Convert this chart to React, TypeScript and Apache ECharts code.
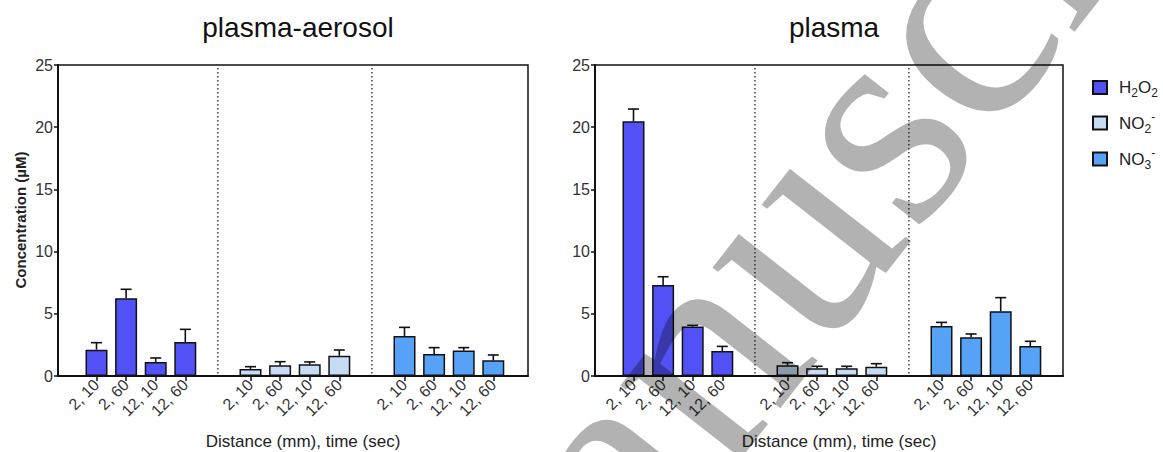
import React, { useEffect, useRef } from "react";
import * as echarts from "echarts";

// ---------- data ----------
const categories = ["2, 10", "2, 60", "12, 10", "12, 60"];
const seriesNames = ["H2O2", "NO2-", "NO3-"];
const panelTitles = ["plasma-aerosol", "plasma"];
const yTicks = [0, 5, 10, 15, 20, 25];

const aerosolH2O2 = [2.12, 6.24, 1.13, 2.73];
const aerosolH2O2Err = [0.56, 0.73, 0.32, 1.02];
const aerosolNO2 = [0.56, 0.86, 0.94, 1.63];
const aerosolNO2Err = [0.19, 0.29, 0.19, 0.46];
const aerosolNO3 = [3.22, 1.77, 2.04, 1.26];
const aerosolNO3Err = [0.69, 0.51, 0.24, 0.43];

const plasmaH2O2 = [20.47, 7.32, 3.97, 2.01];
const plasmaH2O2Err = [0.99, 0.66, 0.1, 0.37];
const plasmaNO2 = [0.86, 0.62, 0.62, 0.75];
const plasmaNO2Err = [0.21, 0.16, 0.16, 0.24];
const plasmaNO3 = [4.02, 3.11, 5.2, 2.41];
const plasmaNO3Err = [0.29, 0.27, 1.1, 0.38];

// ---------- styling / layout ----------
const colors = ["#5151f5", "#c6dcf4", "#56a2f6"];
const FONT = "Liberation Sans, Arial, Helvetica, sans-serif";
const plotTop = 65;
const plotHeight = 311;
const panels = [
  { left: 58, width: 470 },
  { left: 595, width: 468 },
];
const slot = 29.6;
const firstCenter = 38.5;
const groupPitch = 154;
const barWidth = 22;

const panelData = [
  [
    [aerosolH2O2, aerosolH2O2Err],
    [aerosolNO2, aerosolNO2Err],
    [aerosolNO3, aerosolNO3Err],
  ],
  [
    [plasmaH2O2, plasmaH2O2Err],
    [plasmaNO2, plasmaNO2Err],
    [plasmaNO3, plasmaNO3Err],
  ],
];

function buildOption() {
  const grid: any[] = [];
  const xAxis: any[] = [];
  const yAxis: any[] = [];
  const series: any[] = [];
  const graphic: any[] = [];
  const title: any[] = [];

  panels.forEach((p, pi) => {
    // frame grid
    const frameIdx = grid.length;
    grid.push({
      left: p.left,
      top: plotTop,
      width: p.width,
      height: plotHeight,
      show: true,
      borderColor: "#111",
      borderWidth: 1.5,
      backgroundColor: "transparent",
    });
    xAxis.push({
      type: "value",
      gridIndex: frameIdx,
      min: 0,
      max: 1,
      axisLine: { show: true, onZero: false, lineStyle: { color: "#111", width: 2 } },
      axisTick: { show: false },
      axisLabel: { show: false },
      splitLine: { show: false },
    });
    yAxis.push({
      type: "value",
      gridIndex: frameIdx,
      min: 0,
      max: 25,
      interval: 5,
      axisLine: { show: true, lineStyle: { color: "#111", width: 2 } },
      axisTick: { show: true, length: 4, lineStyle: { color: "#111", width: 1.5 } },
      axisLabel: {
        margin: 5,
        fontSize: 16,
        color: "#333",
        fontFamily: FONT,
        formatter: (v: number) => (yTicks.includes(v) ? String(v) : ""),
      },
      splitLine: { show: false },
    });

    title.push({
      text: panelTitles[pi],
      left: p.left + p.width / 2,
      top: 8,
      textAlign: "center",
      textStyle: { fontSize: 28, fontWeight: "normal", color: "#111", fontFamily: FONT },
    });

    // x axis name
    graphic.push({
      type: "text",
      x: p.left + p.width / 2 + 10,
      y: 441,
      z: 10,
      style: {
        text: "Distance (mm), time (sec)",
        fontSize: 17,
        fontFamily: FONT,
        fill: "#222",
        align: "center",
        verticalAlign: "middle",
        textAlign: "center",
        textVerticalAlign: "middle",
      },
    });

    // group sub-grids
    for (let g = 0; g < 3; g++) {
      const gIdx = grid.length;
      const gLeft = p.left + firstCenter + g * groupPitch - slot / 2;
      grid.push({ left: gLeft, top: plotTop, width: slot * 4, height: plotHeight });
      xAxis.push({
        type: "category",
        gridIndex: gIdx,
        data: categories,
        axisLine: { show: false },
        axisTick: {
          show: true,
          alignWithLabel: true,
          length: 5,
          lineStyle: { color: "#111", width: 1.5 },
        },
        axisLabel: {
          rotate: 45,
          margin: 6,
          fontSize: 16,
          color: "#333",
          fontFamily: FONT,
          interval: 0,
        },
      });
      yAxis.push({
        type: "value",
        gridIndex: gIdx,
        min: 0,
        max: 25,
        show: false,
      });
      const [vals, errs] = panelData[pi][g];
      series.push({
        type: "bar",
        name: seriesNames[g],
        xAxisIndex: gIdx,
        yAxisIndex: gIdx,
        barWidth,
        data: vals,
        itemStyle: { color: colors[g], borderColor: "#111", borderWidth: 1.5 },
      });
      series.push({
        type: "custom",
        name: "err",
        xAxisIndex: gIdx,
        yAxisIndex: gIdx,
        data: vals.map((v, i) => [i, v, errs[i]]),
        z: 3,
        renderItem: (params: any, api: any) => {
          const x = api.value(0);
          const v = api.value(1);
          const e = api.value(2);
          const base = api.coord([x, v]);
          const top = api.coord([x, v + e]);
          const st = { stroke: "#111", lineWidth: 1.6 };
          return {
            type: "group",
            children: [
              { type: "line", shape: { x1: base[0], y1: base[1], x2: top[0], y2: top[1] }, style: st },
              { type: "line", shape: { x1: top[0] - 5.5, y1: top[1], x2: top[0] + 5.5, y2: top[1] }, style: st },
            ],
          };
        },
      });
    }

    // dotted separators between groups
    for (let s = 1; s < 3; s++) {
      const endPrev = p.left + firstCenter + (s - 1) * groupPitch + 3 * slot;
      const startNext = p.left + firstCenter + s * groupPitch;
      const xm = (endPrev + startNext) / 2;
      graphic.push({
        type: "line",
        z: 5,
        shape: { x1: xm, y1: plotTop + 3, x2: xm, y2: plotTop + plotHeight },
        style: { stroke: "#444", lineWidth: 1.5, lineDash: [1.5, 2.5] },
      });
    }
  });

  // y axis name
  graphic.push({
    type: "text",
    x: 20,
    y: 220,
    rotation: Math.PI / 2,
    z: 10,
    style: {
      text: "Concentration (\u00b5M)",
      fontSize: 15,
      fontWeight: "bold",
      fontFamily: FONT,
      fill: "#222",
      align: "center",
      verticalAlign: "middle",
      textAlign: "center",
      textVerticalAlign: "middle",
    },
  });

  // watermark
  graphic.push({
    type: "text",
    x: 515,
    y: 828,
    rotation: (52 * Math.PI) / 180,
    z: 100,
    zlevel: 1,
    silent: true,
    style: {
      text: "Manuscript",
      font: "305px 'Liberation Serif'",
      fontSize: 305,
      fontFamily: "Liberation Serif",
      fill: "rgba(0,0,0,0.3)",
      align: "left",
      verticalAlign: "bottom",
      textAlign: "left",
      textVerticalAlign: "bottom",
    },
  });

  const legendLabels: Record<string, string> = {
    H2O2: "{m|H}{sub|2}{m|O}{sub|2}",
    "NO2-": "{m|NO}{sub|2}{sup|-}",
    "NO3-": "{m|NO}{sub|3}{sup|-}",
  };

  return {
    animation: false,
    backgroundColor: "#fff",
    title,
    grid,
    xAxis,
    yAxis,
    series,
    graphic,
    legend: {
      data: seriesNames,
      orient: "vertical",
      left: 1087,
      top: 71,
      itemWidth: 14,
      itemHeight: 13,
      itemGap: 12,
      icon: "rect",
      selectedMode: false,
      formatter: (name: string) => legendLabels[name] || name,
      textStyle: {
        color: "#222",
        fontFamily: FONT,
        rich: {
          m: { fontSize: 17, lineHeight: 24, fontFamily: FONT, color: "#222" },
          sub: { fontSize: 12, lineHeight: 12, fontFamily: FONT, color: "#222", padding: [11, 0, 0, 0] },
          sup: { fontSize: 12, lineHeight: 12, fontFamily: FONT, color: "#222", padding: [0, 0, 12, 0] },
        },
        padding: [0, 0, 0, 7],
      },
    },
  };
}

export default function App() {
  const ref = useRef<HTMLDivElement>(null);
  useEffect(() => {
    if (!ref.current) return;
    const chart = echarts.init(ref.current, undefined, { renderer: "svg" });
    chart.setOption(buildOption() as any);
    return () => chart.dispose();
  }, []);
  return (
    <div
      ref={ref}
      style={{ position: "absolute", left: 0, top: 0, width: 1163, height: 452 }}
    />
  );
}
